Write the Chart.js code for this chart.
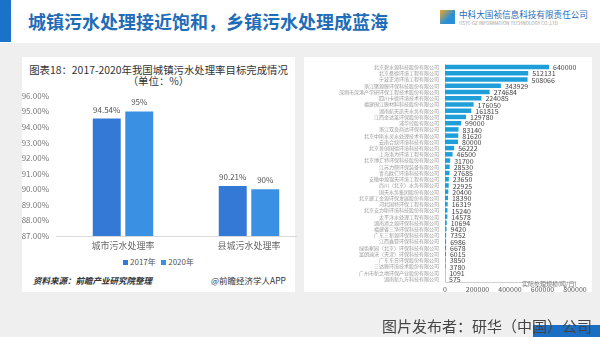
<!DOCTYPE html>
<html>
<head>
<meta charset="utf-8">
<script src="https://cdn.jsdelivr.net/npm/chart.js@4.4.1/dist/chart.umd.min.js"></script>
<style>
  body { margin: 0; width: 600px; height: 337px; overflow: hidden; background: #efefef;
         font-family: "Noto Sans CJK SC", "Noto Sans", sans-serif; position: relative; }
  .abs { position: absolute; }
  #header { left: 0; top: 0; width: 600px; height: 43px; background: #fff; }
  #bluebar { left: 0; top: 0; width: 11px; height: 42px; background: #1a73c8; }
  #title { left: 28px; top: 8px; font-size: 18px; font-weight: bold; color: #1f6db8; white-space: nowrap; }
  #logo { left: 440px; top: 10px; width: 15px; height: 14px; background: linear-gradient(135deg, #f2a623 0%, #2a8fd8 60%); }
  #logoText { left: 459px; top: 8px; font-size: 8.6px; color: #1f6db8; white-space: nowrap; }
  #logoSub { left: 459px; top: 20px; font-size: 4.6px; color: #9a9a9a; white-space: nowrap; }
  .panel { background: #fff; }
  #leftPanel { left: 22px; top: 57px; width: 273px; height: 235px; }
  #rightPanel { left: 304px; top: 57px; width: 288px; height: 235px; }
  #chartTitle { left: 22px; top: 64px; width: 273px; text-align: center; font-size: 10.4px; line-height: 11px; color: #333; white-space: nowrap; }
  #legend { left: 22px; top: 256px; width: 273px; text-align: center; font-size: 8px; color: #555; }
  #legend span.box { display: inline-block; width: 5px; height: 5px; margin-right: 2px; }
  #source { left: 33px; top: 274px; font-size: 8.5px; font-style: italic; font-weight: bold; color: #333; }
  #brand { left: 190px; top: 274px; width: 96px; text-align: right; font-size: 8.5px; color: #333; }
  #unitNote { left: 522px; top: 279px; font-size: 6px; color: #777; white-space: nowrap; }
  #footer { left: 382px; top: 315px; font-size: 15px; color: #444; white-space: nowrap; }
  #footBand { left: 533px; top: 325px; width: 67px; height: 12px; background: #1a6fc4; }
</style>
</head>
<body>
<div class="abs" id="header"></div>
<div class="abs" id="bluebar"></div>
<div class="abs" id="title">城镇污水处理接近饱和，乡镇污水处理成蓝海</div>
<div class="abs" id="logo"></div>
<div class="abs" id="logoText">中科大国祯信息科技有限责任公司</div>
<div class="abs" id="logoSub">USTC-GZ INFORMATION TECHNOLOGY CO.,LTD</div>

<div class="abs panel" id="leftPanel"></div>
<div class="abs panel" id="rightPanel"></div>
<div class="abs" id="chartTitle">图表18：2017-2020年我国城镇污水处理率目标完成情况<br>（单位：%）</div>
<div class="abs" style="left:22px;top:88px;width:290px;height:166px;"><canvas id="rateChart"></canvas></div>
<div class="abs" id="legend"><span class="box" style="background:#3479d6"></span>2017年&nbsp;&nbsp;&nbsp;<span class="box" style="background:#3a90e2"></span>2020年</div>
<div class="abs" id="source">资料来源：前瞻产业研究院整理</div>
<div class="abs" id="brand">@前瞻经济学人APP</div>

<div class="abs" style="left:300px;top:55px;width:292px;height:245px;"><canvas id="scaleChart"></canvas></div>
<div class="abs" id="unitNote">实际处理规模(吨/日)</div>

<div class="abs" id="footBand"></div>
<div class="abs" id="footer">图片发布者：研华（中国）公司</div>

<script>
// left chart data
const rateCategories = ["城市污水处理率", "县城污水处理率"];
const rate2017 = [94.54, 90.21];
const rate2020 = [95, 90];
const rateLabels2017 = ["94.54%", "90.21%"];
const rateLabels2020 = ["95%", "90%"];

// right chart data
const companies = [
  "北京碧水源科技股份有限公司", "北京桑德环境工程有限公司", "宁波正清环境工程有限公司",
  "浙江聚源膜环保科技股份有限公司", "深圳市深港产学研环保工程技术股份有限公司", "四川卡德环境技术有限公司",
  "福建闽江膜材料科技股份有限公司", "湖南航天凯天水务有限公司", "江西金达莱环保股份有限公司",
  "浦华控股有限公司", "浙江双良商达环保有限公司", "北京中斯水灵水处理技术有限公司",
  "云南合续环境科技有限公司", "北京普创国德环境科技有限公司", "上海洛为环境工程有限公司",
  "北京博汇特环保科技股份有限公司", "江苏力鼎环保装备有限公司", "青岛欧仁环境科技有限公司",
  "安徽中源锦天环境工程有限公司", "尚川（北京）水务有限公司", "国天水务集团股份有限公司",
  "北京建工金源环保发展股份有限公司", "河北国特环保工程有限公司", "北京安力斯环境科技股份有限公司",
  "太平洋水处理工程有限公司", "湖南清之源环保科技有限公司", "福建省三净环保科技有限公司",
  "广东三新源环保科技有限公司", "江西鑫亚环保科技有限公司", "绿色家园（北京）环保科技有限公司",
  "富朗迪沃（天津）环保科技有限公司", "广东东日环保股份有限公司", "三达膜环境技术股份有限公司",
  "广州市新之地环保产业股份有限公司", "湖南新九方科技有限公司"
];
const capacity = [
  640000, 512131, 508066, 343929, 274684, 224085, 176050, 161815, 129780,
  99000, 83140, 81620, 80000, 56222, 46500, 31700, 28530, 27685, 23650,
  22925, 20400, 18390, 16319, 15240, 14578, 10694, 9420, 7352, 6986,
  6678, 6015, 3850, 3780, 1091, 575
];
const capacityTicks = [0, 200000, 400000, 600000, 800000];

// draws value text next to each bar
const valueLabels = {
  id: "valueLabels",
  afterDatasetsDraw(chart, args, opts) {
    const ctx = chart.ctx;
    ctx.save();
    ctx.font = opts.font;
    ctx.fillStyle = opts.color;
    chart.data.datasets.forEach((ds, i) => {
      chart.getDatasetMeta(i).data.forEach((bar, j) => {
        const text = ds.valueText ? ds.valueText[j] : String(ds.data[j]);
        if (chart.options.indexAxis === "y") {
          ctx.textAlign = "left";
          ctx.textBaseline = "middle";
          ctx.fillText(text, bar.x + 4, bar.y + 0.5);
        } else {
          ctx.textAlign = "center";
          ctx.textBaseline = "bottom";
          ctx.fillText(text, bar.x, bar.y - 5);
        }
      });
    });
    ctx.restore();
  },
};

// baseline under the left bars, stops short of the canvas edge
const baseLine = {
  id: "baseLine",
  beforeDatasetsDraw(chart, args, opts) {
    const { ctx, chartArea } = chart;
    ctx.save();
    ctx.strokeStyle = "#d9d9d9";
    ctx.lineWidth = 1;
    ctx.beginPath();
    ctx.moveTo(chartArea.left - 4, chartArea.bottom + 0.5);
    ctx.lineTo(chartArea.right - opts.cut, chartArea.bottom + 0.5);
    ctx.stroke();
    ctx.restore();
  },
};

Chart.defaults.font.family = '"Noto Sans CJK SC", "Noto Sans", sans-serif';
Chart.defaults.animation = false;

new Chart(document.getElementById("rateChart").getContext("2d"), {
  type: "bar",
  data: {
    labels: rateCategories,
    datasets: [
      { label: "2017年", data: rate2017, valueText: rateLabels2017, backgroundColor: "#3479d6",
        categoryPercentage: 0.516, barPercentage: 0.86 },
      { label: "2020年", data: rate2020, valueText: rateLabels2020, backgroundColor: "#3a90e2",
        categoryPercentage: 0.516, barPercentage: 0.86 },
    ],
  },
  options: {
    responsive: true,
    maintainAspectRatio: false,
    layout: { padding: { top: 4, right: 0, left: 0, bottom: 0 } },
    plugins: {
      legend: { display: false },
      tooltip: { enabled: false },
      valueLabels: { font: '8px "Noto Sans CJK SC"', color: "#555" },
      baseLine: { cut: 15 },
    },
    scales: {
      y: {
        min: 87, max: 96,
        afterFit: (s) => { s.width = 38; },
        border: { display: false },
        grid: { display: false },
        ticks: { stepSize: 1, font: { size: 8 }, color: "#777", padding: 3,
                 callback: (v) => v.toFixed(2) + "%" },
      },
      x: {
        afterFit: (s) => { s.height = 18; },
        border: { display: false },
        grid: { display: false, drawTicks: false },
        ticks: { font: { size: 9 }, color: "#666", padding: 4 },
      },
    },
  },
  plugins: [valueLabels, baseLine],
});

new Chart(document.getElementById("scaleChart").getContext("2d"), {
  type: "bar",
  data: {
    labels: companies,
    datasets: [
      { label: "处理规模", data: capacity, backgroundColor: "#1f9fd9",
        categoryPercentage: 0.8, barPercentage: 0.9 },
    ],
  },
  options: {
    indexAxis: "y",
    responsive: true,
    maintainAspectRatio: false,
    layout: { padding: { top: 8, right: 17, left: 0, bottom: 2 } },
    plugins: {
      legend: { display: false },
      tooltip: { enabled: false },
      valueLabels: { font: '7px "Noto Sans CJK SC"', color: "#444" },
    },
    scales: {
      x: {
        min: 0, max: 800000,
        afterFit: (s) => { s.height = 16; },
        border: { color: "#d0d0d0" },
        grid: { display: false, drawTicks: false },
        ticks: { stepSize: 200000, font: { size: 7 }, color: "#555", padding: 3,
                 callback: (v) => capacityTicks.includes(v) ? String(v) : "" },
      },
      y: {
        afterFit: (s) => { s.width = 145; },
        border: { color: "#d0d0d0" },
        grid: { display: false, drawTicks: false },
        ticks: { autoSkip: false, font: { size: 5 }, color: "#999", padding: 6 },
      },
    },
  },
  plugins: [valueLabels],
});
</script>
</body>
</html>
